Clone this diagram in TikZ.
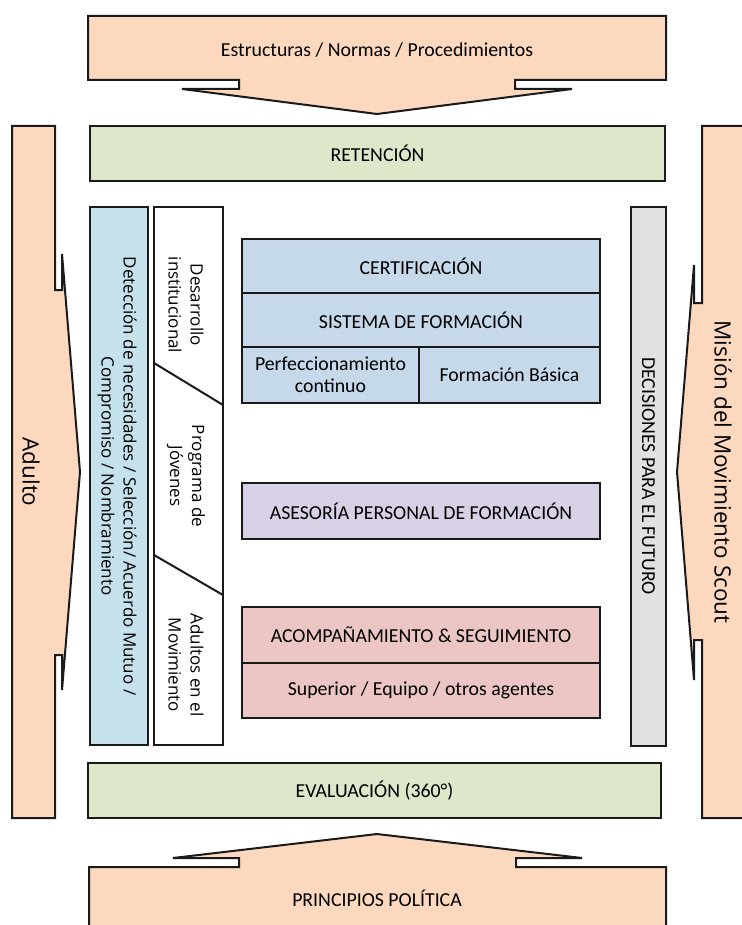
\documentclass[tikz,border=0pt]{standalone}
\usepackage{fontspec}
\setmainfont{Carlito}
\newfontfamily\osans{Open Sans}
\definecolor{edge}{HTML}{1A1A1A}
\definecolor{peach}{HTML}{FCD9BE}
\definecolor{leaf}{HTML}{DDE7CA}
\definecolor{sky}{HTML}{C5E1EC}
\definecolor{steel}{HTML}{C6D9EA}
\definecolor{lilac}{HTML}{D8D1E5}
\definecolor{rose}{HTML}{ECC5C5}
\definecolor{ash}{HTML}{E1E1E1}
\begin{document}
\begin{tikzpicture}[x=1pt,y=-1pt,
  box/.style={draw=edge, line width=2pt, inner sep=0pt, align=center,
    font=\fontsize{19.8}{22}\selectfont},
  coltext/.style={rotate=-90, align=center, inner sep=0pt,
    font=\osans\fontsize{17}{22}\selectfont},
  sidetext/.style={rotate=-90, inner sep=0pt,
    font=\osans\fontsize{22.5}{26}\selectfont},
  plain/.style={inner sep=0pt, font=\fontsize{19.8}{22}\selectfont},
  callout/.style={draw=edge, fill=peach, line width=2pt, line join=miter}]
\useasboundingbox (0,0) rectangle (741,925);

% block arrows around the frame
\draw[callout] (88,16) -- (666,16) -- (666,80) -- (515,80) -- (515,89)
  -- (572,89) -- (377,114) -- (182,89) -- (239,89) -- (239,80) -- (88,80) -- cycle;
\draw[callout] (89,932) -- (89,867) -- (239,867) -- (239,858) -- (173,858)
  -- (377,834) -- (582,858) -- (516,858) -- (516,867) -- (666,867) -- (666,932);
\draw[callout] (12,126) -- (55,126) -- (55,290) -- (62,290) -- (62,254)
  -- (80,472) -- (62,690) -- (62,655) -- (55,655) -- (55,818) -- (12,818) -- cycle;
\draw[callout] (748,126) -- (702,126) -- (702,303) -- (694,303) -- (694,265)
  -- (677,472) -- (694,680) -- (694,640) -- (702,640) -- (702,818) -- (748,818);

\node[plain] (normas) at (377,50) {Estructuras / Normas / Procedimientos};
\node[plain] (principios) at (377,898) {PRINCIPIOS POLÍTICA};
\node[sidetext] (adulto) at (31,472) {Adulto};
\node[sidetext] (mision) at (723,472) {Misión del Movimiento Scout};

% horizontal bands
\node[box, fill=leaf, minimum width=575, minimum height=55] (retencion)
  at (377.5,153.5) {RETENCIÓN};
\node[box, fill=leaf, minimum width=573, minimum height=55] (evaluacion)
  at (374.5,790.5) {EVALUACIÓN (360°)};

% vertical columns
\node[box, fill=sky, minimum width=58, minimum height=538] (deteccion) at (119,476) {};
\node[coltext] (detecciontxt) at (117,476)
  {Detección de necesidades / Selección/ Acuerdo Mutuo /\\Compromiso / Nombramiento};
\node[box, fill=white, minimum width=69, minimum height=538] (ambitos) at (188.5,476) {};
\coordinate (cutAw) at (154,363);
\coordinate (cutAe) at (223,405);
\coordinate (cutBw) at (154,555);
\coordinate (cutBe) at (223,595);
\draw[draw=edge, line width=2pt] (cutAw) -- (cutAe);
\draw[draw=edge, line width=2pt] (cutBw) -- (cutBe);
\node[coltext] (desarrollo) at (186,305) {Desarrollo\\institucional};
\node[coltext] (programa) at (186,476) {Programa de\\Jóvenes};
\node[coltext] (adultos) at (186,665) {Adultos en el\\Movimiento};
\node[box, fill=ash, minimum width=35, minimum height=539] (decisiones)
  at (648.5,476.5) {};
\node[plain, rotate=-90] (decisionestxt) at (648.5,476) {DECISIONES PARA EL FUTURO};

% central blocks
\node[box, fill=steel, minimum width=358, minimum height=54] (cert) at (421,266) {CERTIFICACIÓN};
\node[box, fill=steel, minimum width=358, minimum height=54] (sistema) at (421,320) {SISTEMA DE FORMACIÓN};
\node[box, fill=steel, minimum width=177, minimum height=56] (perf) at (330.5,375)
  {Perfeccionamiento\\continuo};
\node[box, fill=steel, minimum width=181, minimum height=56] (basica) at (509.5,375)
  {Formación Básica};
\node[box, fill=lilac, minimum width=358, minimum height=56] (asesoria) at (421,511)
  {ASESORÍA PERSONAL DE FORMACIÓN};
\node[box, fill=rose, minimum width=358, minimum height=56] (acomp) at (421,635)
  {ACOMPAÑAMIENTO \& SEGUIMIENTO};
\node[box, fill=rose, minimum width=358, minimum height=55] (superior) at (421,690.5)
  {Superior / Equipo / otros agentes};
\end{tikzpicture}
\end{document}
